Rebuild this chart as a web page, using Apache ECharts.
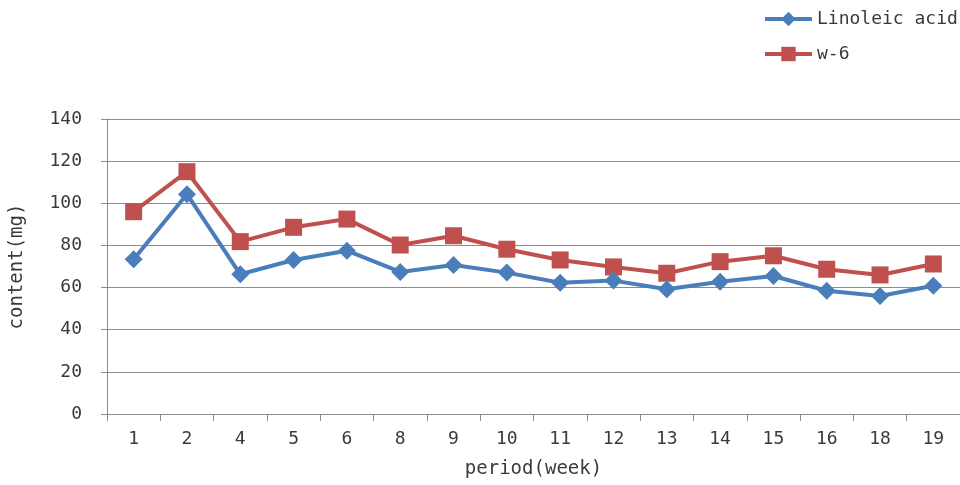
<!DOCTYPE html>
<html>
<head>
<meta charset="utf-8">
<script src="https://cdn.jsdelivr.net/npm/echarts@6/dist/echarts.min.js"></script>
<style>
  html, body { margin: 0; padding: 0; background: #fff; }
  #chart { width: 960px; height: 485px; }
</style>
</head>
<body>
<div id="chart"></div>
<script>
// Sampling weeks and fatty-acid content per week
const weeks = ['1', '2', '4', '5', '6', '8', '9', '10', '11', '12', '13', '14', '15', '16', '18', '19'];
const linoleicAcid = [73.4, 104.3, 66.3, 73.1, 77.5, 67.4, 70.7, 67.1, 62.3, 63.3, 59.2, 62.8, 65.5, 58.5, 56.0, 60.9];
const omega6 = [96.0, 115.0, 81.8, 88.6, 92.5, 80.2, 84.6, 78.2, 73.1, 69.8, 66.8, 72.3, 75.1, 68.7, 66.0, 71.2];
const yTicks = { min: 0, max: 140, interval: 20 };

const FONT = '"DejaVu Sans Mono", monospace';
const TEXT = '#3a3a3a';
const GRID = '#8c8c8c';

const chart = echarts.init(document.getElementById('chart'));
chart.setOption({
  animation: false,
  backgroundColor: '#ffffff',
  grid: { left: 106, top: 119, width: 862, height: 295, containLabel: false },
  legend: {
    orient: 'vertical',
    left: 763,
    top: 10,
    padding: 0,
    itemWidth: 47,
    itemHeight: 18,
    itemGap: 17,
    lineStyle: { width: 4 },
    textStyle: { fontFamily: FONT, fontSize: 18, color: TEXT },
    data: ['Linoleic acid', 'w-6']
  },
  xAxis: {
    type: 'category',
    data: weeks,
    boundaryGap: true,
    name: 'period(week)',
    nameLocation: 'middle',
    nameGap: 46,
    nameTextStyle: { fontFamily: FONT, fontSize: 19, color: TEXT },
    axisLine: { lineStyle: { color: GRID, width: 1 } },
    axisTick: { show: true, alignWithLabel: false, length: 7, lineStyle: { color: GRID } },
    axisLabel: { fontFamily: FONT, fontSize: 18, color: TEXT, margin: 16 },
    splitLine: { show: false }
  },
  yAxis: {
    type: 'value',
    min: yTicks.min,
    max: yTicks.max,
    interval: yTicks.interval,
    name: 'content(mg)',
    nameLocation: 'middle',
    nameGap: 80,
    nameRotate: 90,
    nameTextStyle: { fontFamily: FONT, fontSize: 19, color: TEXT },
    axisLine: { show: true, lineStyle: { color: GRID, width: 1 } },
    axisTick: { show: true, length: 6, lineStyle: { color: GRID } },
    axisLabel: { fontFamily: FONT, fontSize: 18, color: TEXT, margin: 25 },
    splitLine: { show: true, lineStyle: { color: GRID, width: 1 } }
  },
  series: [
    {
      name: 'Linoleic acid',
      type: 'line',
      data: linoleicAcid,
      symbol: 'diamond',
      symbolSize: 18,
      color: '#4a7ebb',
      lineStyle: { width: 4, color: '#4a7ebb' },
      itemStyle: { color: '#4a7ebb' },
      z: 3
    },
    {
      name: 'w-6',
      type: 'line',
      data: omega6,
      symbol: 'rect',
      symbolSize: 17,
      color: '#c0504d',
      lineStyle: { width: 4, color: '#c0504d' },
      itemStyle: { color: '#c0504d' },
      z: 2
    }
  ]
});
</script>
</body>
</html>
